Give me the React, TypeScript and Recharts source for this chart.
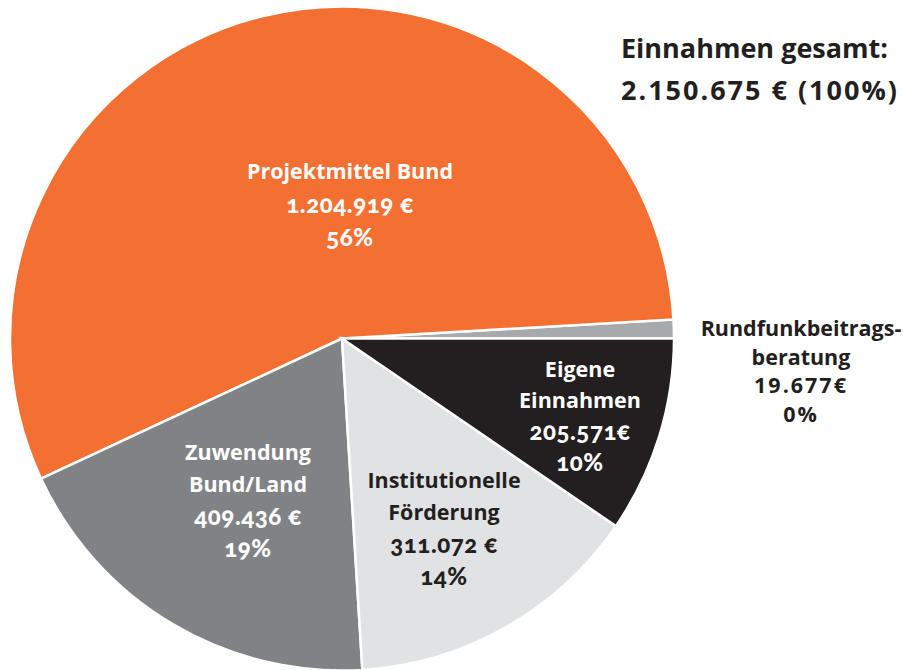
import React from "react";
import { PieChart, Pie, Cell } from "recharts";

const categories = [
  "Rundfunkbeitragsberatung",
  "Projektmittel Bund",
  "Zuwendung Bund/Land",
  "Institutionelle Förderung",
  "Eigene Einnahmen",
];
const values = [19677, 1204919, 409436, 311072, 205571];
const colors = ["#A7A9AC", "#F37032", "#808285", "#E1E2E3", "#231F20"];
const labelLines = [
  ["Rundfunkbeitrags-", "beratung", "19.677€", "0%"],
  ["Projektmittel Bund", "1.204.919 €", "56%"],
  ["Zuwendung", "Bund/Land", "409.436 €", "19%"],
  ["Institutionelle", "Förderung", "311.072 €", "14%"],
  ["Eigene", "Einnahmen", "205.571€", "10%"],
];
const titleLines = ["Einnahmen gesamt:", "2.150.675 € (100%)"];

const labelStyle = [
  { dx: 459, dy: 32, lh: 28.5, size: 21.5, fill: "#231F20", old: false },
  { dx: 8, dy: -135, lh: 33, size: 21.5, fill: "#FFFFFF", old: true },
  { dx: -94, dy: 161, lh: 32, size: 21.5, fill: "#FFFFFF", old: true },
  { dx: 102, dy: 189, lh: 31.7, size: 21.5, fill: "#231F20", old: true },
  { dx: 238, dy: 76, lh: 31, size: 21.5, fill: "#FFFFFF", old: true },
];

const data = categories.map((name, i) => ({ name, value: values[i] }));

const FONT = "'Open Sans', 'Noto Sans', sans-serif";
const NUMFONT = "Lato, 'Open Sans', sans-serif";
const isNumLine = (t: string) => /^[0-9]/.test(t);

const renderLabel = (props: any) => {
  const { cx, cy, index } = props;
  const st = labelStyle[index];
  const lines = labelLines[index];
  const x = cx + st.dx;
  const yc = cy + st.dy;
  const y0 = yc - ((lines.length - 1) * st.lh) / 2;
  return (
    <g key={`lbl-${index}`}>
      {lines.map((t, j) => {
        const numLine = isNumLine(t);
        const old = st.old && numLine;
        return (
          <text
            key={j}
            x={x}
            y={y0 + j * st.lh}
            textAnchor="middle"
            dominantBaseline="central"
            fill={st.fill}
            fontFamily={old ? NUMFONT : FONT}
            fontWeight={old ? 900 : 700}
            fontSize={old ? st.size + 2.5 : st.size}
            letterSpacing={old ? 0.6 : numLine ? 2 : 0}
            style={old ? { fontVariantNumeric: "oldstyle-nums" } : undefined}
          >
            {t}
          </text>
        );
      })}
    </g>
  );
};

export default function App() {
  return (
    <div style={{ position: "absolute", left: 0, top: 0, width: 903, height: 670, background: "#fff" }}>
      <PieChart width={903} height={670} margin={{ top: 0, right: 0, bottom: 0, left: 0 }}>
        <Pie
          data={data}
          dataKey="value"
          nameKey="name"
          cx={342}
          cy={338.5}
          outerRadius={332}
          startAngle={0}
          endAngle={360}
          stroke="#FFFFFF"
          strokeWidth={2.5}
          label={renderLabel}
          labelLine={false}
          isAnimationActive={false}
        >
          {data.map((d, i) => (
            <Cell key={d.name} fill={colors[i]} />
          ))}
        </Pie>
      </PieChart>
      <div
        style={{
          position: "absolute",
          left: 621,
          top: 27,
          fontFamily: FONT,
          fontWeight: 700,
          fontSize: 27,
          lineHeight: "42px",
          color: "#231F20",
          whiteSpace: "nowrap",
        }}
      >
        {titleLines.map((t, i) => (
          <div key={t} style={{ letterSpacing: i === 1 ? 2 : 0 }}>
            {t}
          </div>
        ))}
      </div>
    </div>
  );
}
